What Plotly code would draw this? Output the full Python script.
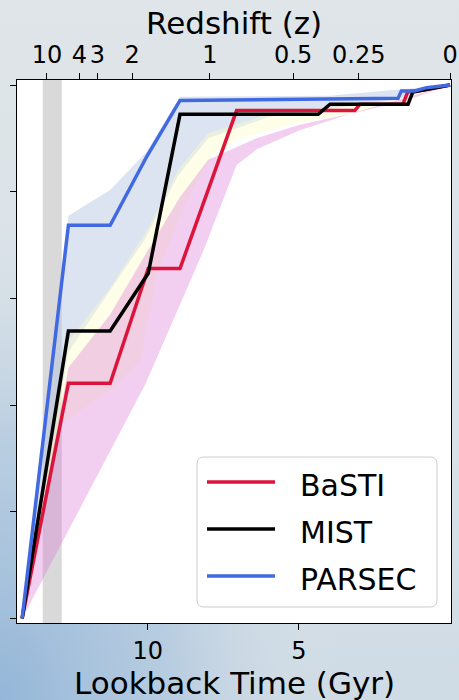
import base64
import plotly.graph_objects as go

# ---------------- data ----------------
models = ["BaSTI", "MIST", "PARSEC"]

# cumulative SFH lines: lookback time (Gyr) and cumulative fraction
basti_t = [14.15, 12.62, 11.24, 9.98, 8.93, 7.06, 3.15, 2.98, 1.56, 1.40, 0.84, 0.0]
basti_f = [0.0, 0.441, 0.441, 0.656, 0.656, 0.952, 0.952, 0.964, 0.964, 0.987, 0.991, 1.0]

mist_t = [14.15, 12.62, 11.24, 9.98, 8.93, 4.36, 3.97, 1.39, 1.23, 0.84, 0.0]
mist_f = [0.0, 0.539, 0.539, 0.647, 0.945, 0.945, 0.964, 0.964, 0.987, 0.991, 1.0]

parsec_t = [14.15, 12.62, 11.24, 10.03, 8.93, 1.72, 1.61, 1.17, 0.78, 0.0]
parsec_f = [0.0, 0.737, 0.737, 0.866, 0.971, 0.975, 0.989, 0.989, 0.995, 1.0]

# uncertainty envelopes
parsec_hi_t = [14.15, 12.62, 11.24, 10.03, 8.93, 4.0, 1.6, 0.0]
parsec_hi = [0.0, 0.755, 0.803, 0.875, 0.978, 0.980, 0.992, 1.0]
parsec_lo_t = [14.15, 12.62, 10.1, 9.0, 8.0, 6.0, 4.0, 2.0, 0.0]
parsec_lo = [0.0, 0.50, 0.71, 0.83, 0.90, 0.94, 0.955, 0.97, 1.0]

mist_hi_t = [14.15, 12.62, 11.24, 10.0, 9.0, 8.0, 6.0, 4.0, 2.0, 0.0]
mist_hi = [0.0, 0.52, 0.62, 0.73, 0.84, 0.91, 0.945, 0.958, 0.972, 1.0]
mist_lo_t = [14.15, 12.9, 12.62, 11.19, 10.25, 9.7, 8.71, 7.84, 6.95, 4.97, 3.0, 0.0]
mist_lo = [0.0, 0.37, 0.375, 0.43, 0.484, 0.647, 0.784, 0.87, 0.90, 0.93, 0.95, 1.0]

basti_hi_t = [14.15, 12.62, 11.24, 10.1, 8.93, 8.0, 6.4, 5.0, 3.0, 1.5, 0.0]
basti_hi = [0.0, 0.47, 0.57, 0.68, 0.79, 0.86, 0.90, 0.925, 0.95, 0.97, 1.0]
basti_lo_t = [14.15, 10.07, 8.15, 7.06, 6.38, 4.97, 3.09, 0.0]
basti_lo = [0.0, 0.44, 0.69, 0.85, 0.88, 0.915, 0.95, 1.0]

# shaded epoch (lookback Gyr)
epoch_band = [12.84, 13.47]

# axes ticks
x_ticks = [10, 5]
y_ticks = [0.0, 0.2, 0.4, 0.6, 0.8, 1.0]
z_labels = ["10", "4", "3", "2", "1", "0.5", "0.25", "0"]
z_lookback = [13.33, 12.26, 11.66, 10.51, 7.94, 5.19, 3.02, 0.0]

# ---------------- styling ----------------
FONT = "DejaVu Sans"
line_colors = {"BaSTI": "#DC143C", "MIST": "#000000", "PARSEC": "#4169E1"}
band_colors = {"PARSEC": "rgba(176,196,222,0.45)",
               "MIST": "rgba(255,255,200,0.40)",
               "BaSTI": "rgba(218,112,214,0.34)"}

W, H = 459, 700
ML, MR, MT, MB = 17, 8, 80, 77
PW, PH = W - ML - MR, H - MT - MB
XR = [14.32, -0.03]
YR = [-0.0086, 1.0094]


def px(xp):
    return (xp - ML) / PW


def py(yp):
    return (MT + PH - yp) / PH


fig = go.Figure()

bands = [("PARSEC", parsec_hi_t, parsec_hi, parsec_lo_t, parsec_lo),
         ("MIST", mist_hi_t, mist_hi, mist_lo_t, mist_lo),
         ("BaSTI", basti_hi_t, basti_hi, basti_lo_t, basti_lo)]
for name, ht, hv, lt, lv in bands:
    fig.add_trace(go.Scatter(
        x=list(ht) + list(reversed(lt)),
        y=list(hv) + list(reversed(lv)),
        fill="toself", fillcolor=band_colors[name],
        line=dict(width=0), mode="lines", hoverinfo="skip",
        showlegend=False))

series = {"BaSTI": (basti_t, basti_f), "MIST": (mist_t, mist_f),
          "PARSEC": (parsec_t, parsec_f)}
for name in models:
    t, f = series[name]
    fig.add_trace(go.Scatter(x=t, y=f, mode="lines", name=name, showlegend=False,
                             line=dict(color=line_colors[name], width=3.5)))

# invisible trace to activate the top axis
fig.add_trace(go.Scatter(x=[z_lookback[0]], y=[0], xaxis="x2", mode="markers",
                         marker=dict(opacity=0), showlegend=False, hoverinfo="skip"))

# background gradient (blurred backdrop)
svg = f"""<svg xmlns='http://www.w3.org/2000/svg' width='{W}' height='{H}'>
<defs>
<linearGradient id='g' x1='0' y1='0' x2='0' y2='1'>
<stop offset='0' stop-color='#dfe5e8'/><stop offset='0.6' stop-color='#d9e2e8'/><stop offset='1' stop-color='#cfdbe5'/>
</linearGradient>
<radialGradient id='r' cx='0' cy='1' r='0.75'>
<stop offset='0' stop-color='#94b6d8' stop-opacity='1'/>
<stop offset='0.5' stop-color='#adc6de' stop-opacity='0.7'/>
<stop offset='1' stop-color='#dfe5e8' stop-opacity='0'/>
</radialGradient>
</defs>
<rect width='{W}' height='{H}' fill='url(#g)'/>
<rect width='{W}' height='{H}' fill='url(#r)'/>
</svg>"""
uri = "data:image/svg+xml;base64," + base64.b64encode(svg.encode()).decode()

# legend box drawn by hand (rounded frame, long line swatches)
lx0, lx1, ly0, ly1, rad = 197, 437, 457, 607, 7
frame = (f"M {px(lx0 + rad)},{py(ly0)} L {px(lx1 - rad)},{py(ly0)} "
         f"Q {px(lx1)},{py(ly0)} {px(lx1)},{py(ly0 + rad)} "
         f"L {px(lx1)},{py(ly1 - rad)} Q {px(lx1)},{py(ly1)} {px(lx1 - rad)},{py(ly1)} "
         f"L {px(lx0 + rad)},{py(ly1)} Q {px(lx0)},{py(ly1)} {px(lx0)},{py(ly1 - rad)} "
         f"L {px(lx0)},{py(ly0 + rad)} Q {px(lx0)},{py(ly0)} {px(lx0 + rad)},{py(ly0)} Z")

shapes = [
    dict(type="rect", xref="paper", yref="paper", x0=0, x1=1, y0=0, y1=1,
         fillcolor="white", line=dict(width=0), layer="below"),
    dict(type="rect", xref="x", yref="paper", x0=epoch_band[0], x1=epoch_band[1],
         y0=0, y1=1, fillcolor="#d9d9d9", line=dict(width=0), layer="below"),
    dict(type="path", xref="paper", yref="paper", path=frame,
         fillcolor="rgba(255,255,255,0.85)", line=dict(color="#cccccc", width=1),
         layer="above"),
]
annotations = [
    dict(text="Lookback Time (Gyr)", xref="paper", yref="paper",
         x=0.5, y=py(683), xanchor="center", yanchor="middle",
         showarrow=False, font=dict(size=31, family=FONT)),
    dict(text="Redshift (z)", xref="paper", yref="paper",
         x=0.5, y=py(23), xanchor="center", yanchor="middle",
         showarrow=False, font=dict(size=31, family=FONT)),
]
row_y = [482, 529, 576]
for name, yy in zip(models, row_y):
    shapes.append(dict(type="line", xref="paper", yref="paper",
                       x0=px(207), x1=px(275), y0=py(yy), y1=py(yy),
                       line=dict(color=line_colors[name], width=3.5), layer="above"))
    annotations.append(dict(text=name, xref="paper", yref="paper",
                            x=px(298), y=py(yy + 3), xanchor="left", yanchor="middle",
                            showarrow=False, font=dict(size=30, family=FONT)))

fig.update_layout(
    width=W, height=H,
    margin=dict(l=ML, r=MR, t=MT, b=MB, autoexpand=False),
    paper_bgcolor="#dde4e8", plot_bgcolor="white",
    font=dict(family=FONT, color="black"),
    showlegend=False,
    images=[dict(source=uri, xref="paper", yref="paper",
                 x=-ML / PW, y=1 + MT / PH, sizex=W / PW, sizey=H / PH,
                 xanchor="left", yanchor="top", sizing="stretch", layer="below")],
    shapes=shapes,
    annotations=annotations,
    xaxis=dict(range=XR, tickvals=x_ticks, ticktext=[str(v) for v in x_ticks],
               ticks="outside", ticklen=6, tickwidth=1, tickcolor="black",
               showline=True, linecolor="black", linewidth=1, mirror=True,
               showgrid=False, zeroline=False, tickfont=dict(size=24)),
    xaxis2=dict(range=XR, overlaying="x", side="top", tickvals=z_lookback,
                ticktext=z_labels, ticks="outside", ticklen=6, tickwidth=1,
                tickcolor="black", showgrid=False, zeroline=False,
                showline=False, tickfont=dict(size=24)),
    yaxis=dict(range=YR, tickvals=y_ticks, showticklabels=False,
               ticks="outside", ticklen=6, tickwidth=1, tickcolor="black",
               showline=True, linecolor="black", linewidth=1, mirror=True,
               showgrid=False, zeroline=False),
)

fig.write_html("out.html")
